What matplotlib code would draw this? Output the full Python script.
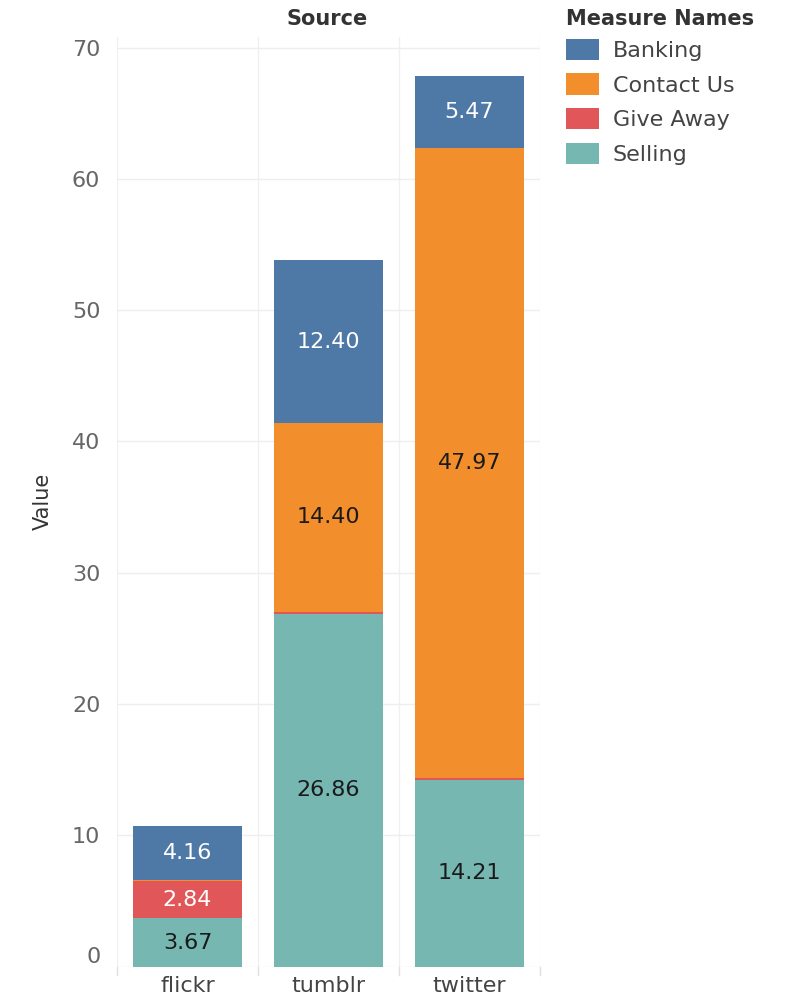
import numpy as np
import matplotlib.pyplot as plt
from matplotlib.patches import Patch

# data
sources = ['flickr', 'tumblr', 'twitter']
measures = ['Selling', 'Give Away', 'Contact Us', 'Banking']
selling = [3.67, 26.86, 14.21]
give_away = [2.84, 0.15, 0.15]
contact_us = [0.08, 14.40, 47.97]
banking = [4.16, 12.40, 5.47]

colors = {'Banking': '#4e79a7', 'Contact Us': '#f28e2b',
          'Give Away': '#e15759', 'Selling': '#76b7b2'}
text_colors = {'Banking': 'white', 'Contact Us': '#1a1a1a',
               'Give Away': 'white', 'Selling': '#1a1a1a'}

plt.rcParams['font.family'] = 'DejaVu Sans'

fig = plt.figure(figsize=(7.95, 10.01), dpi=100)
ax = fig.add_axes([0.1472, 0.0343, 0.532, 0.9287])

x = np.arange(len(sources))
bottom = np.zeros(len(sources))
for name, vals in zip(measures, [selling, give_away, contact_us, banking]):
    vals = np.array(vals)
    ax.bar(x, vals, bottom=bottom, width=0.77, color=colors[name],
           edgecolor='none', zorder=3)
    for xi, b, v in zip(x, bottom, vals):
        if v > 1:
            ax.text(xi, b + v / 2, f'{v:.2f}', ha='center', va='center',
                    fontsize=16, color=text_colors[name], zorder=4)
    bottom += vals

ax.set_xlim(-0.5, 2.5)
ax.set_ylim(0, 70.8)
ax.set_yticks(range(0, 71, 10))
ax.set_xticks(x)
ax.set_xticklabels(sources, fontsize=16, color='#444444')
ax.tick_params(axis='y', labelsize=16, labelcolor='#666666', length=0, pad=12)
ax.tick_params(axis='x', length=0, pad=7)
for lab in ax.get_yticklabels():
    if lab.get_text() == '0':
        lab.set_va('bottom')

ax.grid(axis='y', color='#eeeeee', linewidth=1, zorder=0)
# column separators and tick marks
for sep in [-0.5, 0.5, 1.5, 2.5]:
    ax.axvline(sep, color='#f0f0f0', linewidth=1, zorder=0)
    ax.plot([sep, sep], [0, -0.6], color='#e0e0e0', linewidth=1,
            clip_on=False, zorder=0)
for s in ax.spines.values():
    s.set_visible(False)

ax.set_ylabel('Value', fontsize=15, color='#333333', labelpad=14)
fig.text(0.411, 0.981, 'Source', ha='center', va='center', fontsize=15,
         fontweight='bold', color='#333333')

handles = [Patch(facecolor=colors[m], edgecolor='none')
           for m in ['Banking', 'Contact Us', 'Give Away', 'Selling']]
leg = fig.legend(handles, ['Banking', 'Contact Us', 'Give Away', 'Selling'],
                 loc='upper left', bbox_to_anchor=(0.712, 0.991),
                 title='Measure Names', frameon=False, fontsize=16,
                 title_fontsize=15, handlelength=1.5, handleheight=1.08,
                 labelspacing=0.57, handletextpad=0.6, borderpad=0,
                 borderaxespad=0, alignment='left')
leg._legend_box.sep = 7
leg.get_title().set_fontweight('bold')
leg.get_title().set_color('#333333')
for t in leg.get_texts():
    t.set_color('#444444')

plt.savefig('out.png', dpi=100)
